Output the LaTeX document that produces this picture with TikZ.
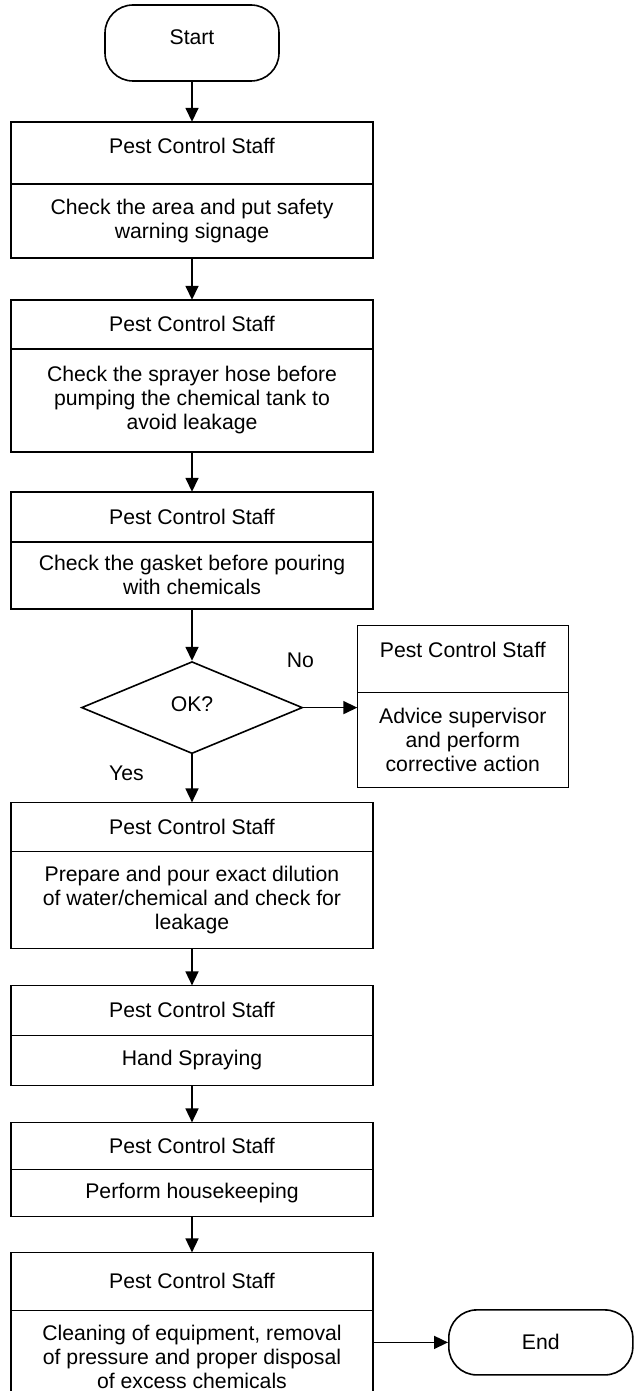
\documentclass[tikz,border=0pt]{standalone}
\usepackage{fontspec}
\setmainfont{Liberation Sans}
\usepackage{tikz}
\usetikzlibrary{shapes.geometric, arrows.meta, positioning}

\begin{document}
\begin{tikzpicture}[
    font=\fontsize{10.6}{12}\selectfont,
    node distance=20pt,
    term/.style={rectangle, draw, rounded corners=14pt, line width=0.8pt, minimum width=87pt, minimum height=38pt, align=center},
    rolebox/.style={rectangle, draw, line width=0.8pt, outer sep=0pt, minimum width=181pt, minimum height=#1, align=center},
    rolebox/.default=25pt,
    taskbox/.style={rolebox=#1},
    taskbox/.default=25pt,
    decision/.style={diamond, draw, line width=0.8pt, minimum width=110.5pt, minimum height=46pt, inner sep=0pt},
    arrow/.style={-{Triangle[length=7pt, width=6.5pt]}, line width=0.8pt}
]
\useasboundingbox (0,0) rectangle (316.5pt,-695.5pt);

\node[term, text depth=6pt] (start) at (96pt,-21.5pt) {Start};

\node[rolebox=31pt, text depth=7pt, below=20pt of start] (b1role) {Pest Control Staff};
\node[taskbox=37pt, below=0pt of b1role] (b1task) {Check the area and put safety\\warning signage};

\node[rolebox=24.5pt, below=21pt of b1task] (b2role) {Pest Control Staff};
\node[taskbox=51.5pt, below=0pt of b2role] (b2task) {Check the sprayer hose before\\pumping the chemical tank to\\avoid leakage};

\node[rolebox=25pt, below=20pt of b2task] (b3role) {Pest Control Staff};
\node[taskbox=33.5pt, below=0pt of b3role] (b3task) {Check the gasket before pouring\\with chemicals};

\node[decision, text depth=4pt, below=26pt of b3task] (ok) {OK?};

\node[rolebox=33.5pt, minimum width=105.5pt, text depth=9.5pt, above right=7.5pt and 27pt of ok.east] (advrole) {Pest Control Staff};
\node[taskbox=47.5pt, minimum width=105.5pt, below=0pt of advrole] (advtask) {Advice supervisor\\and perform\\corrective action};

\node[rolebox=24.5pt, below=24pt of ok] (b4role) {Pest Control Staff};
\node[taskbox=48.5pt, below=0pt of b4role] (b4task) {Prepare and pour exact dilution\\of water/chemical and check for\\leakage};

\node[rolebox=25pt, below=18.5pt of b4task] (b5role) {Pest Control Staff};
\node[taskbox=25pt, below=0pt of b5role] (b5task) {Hand Spraying};

\node[rolebox=23.5pt, below=18.5pt of b5task] (b6role) {Pest Control Staff};
\node[taskbox=23.5pt, below=0pt of b6role] (b6task) {Perform housekeeping};

\node[rolebox=29pt, below=18pt of b6task] (b7role) {Pest Control Staff};
\node[taskbox=47pt, below=0pt of b7role] (b7task) {Cleaning of equipment, removal\\of pressure and proper disposal\\of excess chemicals};

\node[term, minimum width=92pt, minimum height=32.5pt, right=37.5pt of b7task.north east, yshift=-16pt] (finish) {End};

% branch labels
\node (nolbl) at ([shift={(-1.5pt,23.5pt)}]ok.east) {No};
\node (yeslbl) at ([shift={(-32.75pt,-9.5pt)}]ok.south) {Yes};

\draw[arrow] (start) -- (b1role);
\draw[arrow] (b1task) -- (b2role);
\draw[arrow] (b2task) -- (b3role);
\draw[arrow] (b3task) -- (ok);
\draw[arrow] (ok.east) -- (ok.east -| advtask.west);
\draw[arrow] (ok) -- (b4role);
\draw[arrow] (b4task) -- (b5role);
\draw[arrow] (b5task) -- (b6role);
\draw[arrow] (b6task) -- (b7role);
\draw[arrow] (b7task.east |- finish.west) -- (finish);

\end{tikzpicture}
\end{document}
